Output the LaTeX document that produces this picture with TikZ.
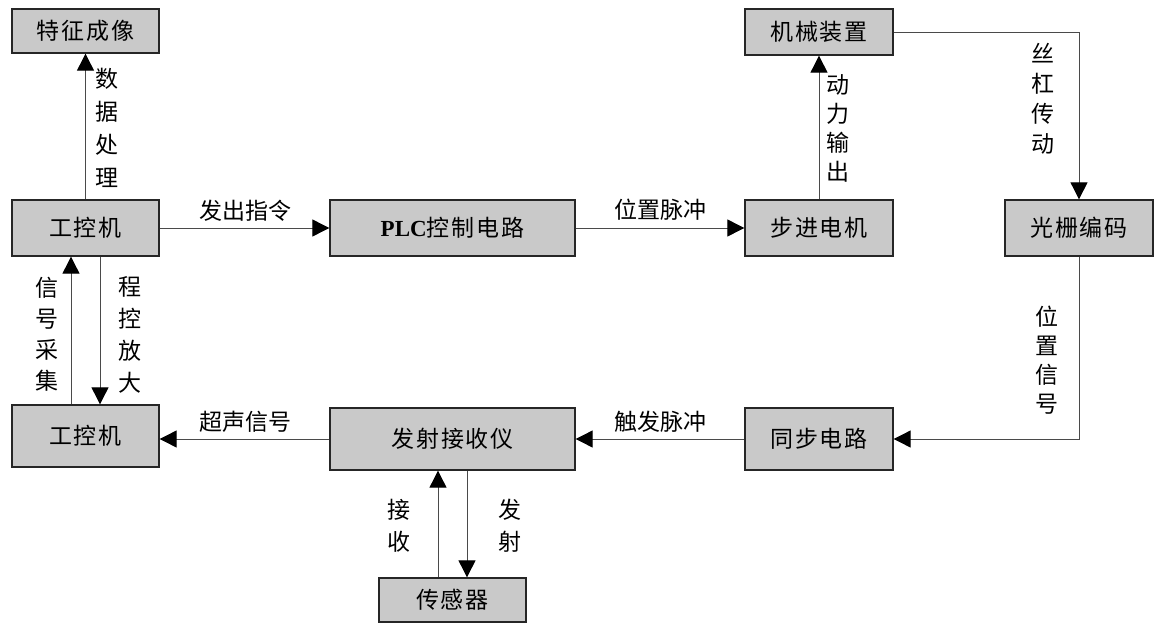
\documentclass[tikz,border=0pt]{standalone}
\usepackage{fontspec}
\newfontfamily\cjk[LetterSpace=8]{Noto Sans CJK SC}
\newfontfamily\cjklab{Noto Sans CJK SC}
\newfontfamily\lat{Liberation Serif}
\usetikzlibrary{arrows.meta}
\definecolor{boxfill}{HTML}{C9C9C9}
\definecolor{lncol}{HTML}{4A4A4A}
\tikzset{
  box/.style={draw=black!85, line width=1.3pt, fill=boxfill, rectangle, inner sep=0pt,
    font=\cjk\fontsize{23}{26}\selectfont},
  conn/.style={draw=lncol, line width=0.9pt},
  arr/.style={conn, -{Triangle[length=17pt,width=17pt,color=black]}},
  lab/.style={inner sep=0pt, align=center, font=\cjklab\fontsize{23}{31}\selectfont},
}
\begin{document}
\begin{tikzpicture}[x=1pt,y=-1pt]
\useasboundingbox (0,0) rectangle (1156,623);
% boxes
\node[box, minimum width=147, minimum height=44] (tz) at (85.5,31) {特征成像};
\node[box, minimum width=147, minimum height=56] (gk1) at (85.5,228) {工控机};
\node[box, minimum width=245, minimum height=56] (plc) at (452.5,228) {{\lat\bfseries PLC}控制电路};
\node[box, minimum width=148, minimum height=56] (bj) at (819,228) {步进电机};
\node[box, minimum width=148, minimum height=46] (jx) at (819,32) {机械装置};
\node[box, minimum width=148, minimum height=56] (gs) at (1079,228) {光栅编码};
\node[box, minimum width=148, minimum height=62] (tb) at (819,439) {同步电路};
\node[box, minimum width=245, minimum height=62] (fs) at (452.5,439) {发射接收仪};
\node[box, minimum width=147, minimum height=62] (gk2) at (85.5,436) {工控机};
\node[box, minimum width=147, minimum height=44] (cg) at (452.5,600) {传感器};
\coordinate (c1) at (1079,32);
% connectors
\draw[arr] (gk1.north) -- (tz.south);
\draw[arr] (gk1.east) -- (plc.west);
\draw[arr] (plc.east) -- (bj.west);
\draw[arr] (bj.north) -- (jx.south);
\draw[arr] (jx.east) -- (c1) -- (gs.north);
\draw[arr] (gs.south) |- (tb.east);
\draw[arr] (tb.west) -- (fs.east);
\draw[arr] (fs.west) -- (gk2.east |- fs.west);
\draw[arr] ([xshift=-14.5pt]gk2.north) -- ([xshift=-14.5pt]gk1.south);
\draw[arr] ([xshift=14.5pt]gk1.south) -- ([xshift=14.5pt]gk2.north);
\draw[arr] ([xshift=-14.5pt]cg.north) -- ([xshift=-14.5pt]fs.south);
\draw[arr] ([xshift=14.5pt]fs.south) -- ([xshift=14.5pt]cg.north);
% labels
\node[lab, font=\cjklab\fontsize{23}{33}\selectfont] (l1) at (107,127.5) {数\\据\\处\\理};
\node[lab, font=\cjklab\fontsize{23}{31}\selectfont] (l2) at (47,334) {信\\号\\采\\集};
\node[lab, font=\cjklab\fontsize{23}{32}\selectfont] (l3) at (130,335) {程\\控\\放\\大};
\node[lab, font=\cjklab\fontsize{23}{29}\selectfont] (l4) at (838,128) {动\\力\\输\\出};
\node[lab, font=\cjklab\fontsize{23}{30}\selectfont] (l5) at (1043,99) {丝\\杠\\传\\动};
\node[lab, font=\cjklab\fontsize{23}{29}\selectfont] (l6) at (1047,360) {位\\置\\信\\号};
\node[lab, font=\cjklab\fontsize{23}{32}\selectfont] (l7) at (399,526) {接\\收};
\node[lab, font=\cjklab\fontsize{23}{32}\selectfont] (l8) at (510,526) {发\\射};
\node[lab] (l9) at (245,211) {发出指令};
\node[lab] (l10) at (660,210) {位置脉冲};
\node[lab] (l11) at (245,422) {超声信号};
\node[lab] (l12) at (660,422) {触发脉冲};
\end{tikzpicture}
\end{document}
